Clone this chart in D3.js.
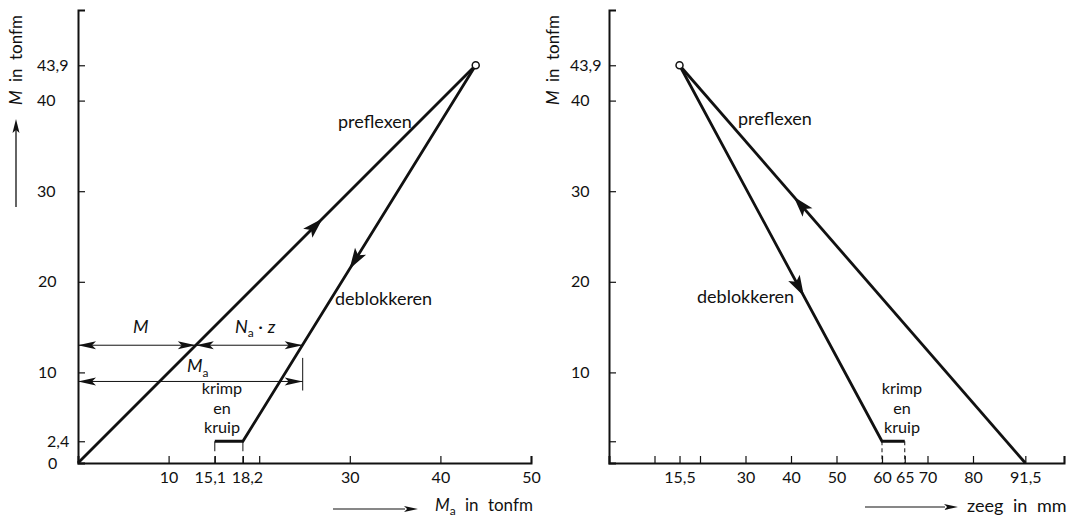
<!DOCTYPE html>
<html>
<head>
<meta charset="utf-8">
<script src="https://cdn.jsdelivr.net/npm/d3@7"></script>
<style>
  body { margin: 0; background: #fff; }
  svg text { font-family: Lato, "Open Sans", sans-serif; font-size: 18px; fill: #111; }
  .domain { stroke: #111; stroke-width: 2; }
  .tick line { stroke: #111; stroke-width: 1.2; }
</style>
</head>
<body>
<div id="chart"></div>
<script>
var width = 1077;
var height = 520;

// moment M (tonfm) shared by both panels
var yTicks = [0, 2.4, 10, 20, 30, 40, 43.9];

// left panel: M against Ma
var leftXTicks = [10, 15.1, 18.2, 20, 30, 40, 50];
var leftXLabels = ["10", "15,1", "18,2", "", "30", "40", "50"];
var leftPreflexen = [[0, 0], [43.9, 43.9]];
var leftDeblokkeren = [[43.9, 43.9], [18.2, 2.4]];
var leftKrimp = [[18.2, 2.4], [15.1, 2.4]];
var dimLevel = 13;     // M line for M / Na.z
var dimM = 13;
var dimMa = 24.8;
var dimLevel2 = 9;     // Ma line

// right panel: M against zeeg (mm)
var rightXTicks = [10, 15.5, 20, 30, 40, 50, 60, 65, 70, 80, 91.5, 100];
var rightXLabels = ["", "15,5", "", "30", "40", "50", "60", "65", "70", "80", "91,5", ""];
var rightPreflexen = [[91.5, 0], [15.5, 43.9]];
var rightDeblokkeren = [[15.5, 43.9], [60, 2.4]];
var rightKrimp = [[60, 2.4], [65, 2.4]];

var fmt = function(d) { return String(d).replace(".", ","); };

var svg = d3.select("#chart").append("svg")
    .attr("width", width)
    .attr("height", height);

var yScale = d3.scaleLinear().domain([0, 50]).range([463, 10]);
var xLeft = d3.scaleLinear().domain([0, 50]).range([78, 531]);
var xRight = d3.scaleLinear().domain([0, 100]).range([609, 1064]);

var line = function(xs) {
  return d3.line().x(function(d) { return xs(d[0]); }).y(function(d) { return yScale(d[1]); });
};

// barbed arrow head, tip at (x,y), pointing along angle a
function arrowHead(g, x, y, a, len, half) {
  var c = Math.cos(a), s = Math.sin(a);
  var bx = x - len * c, by = y - len * s;
  var nx = x - len * 0.78 * c, ny = y - len * 0.78 * s;
  g.append("path")
    .attr("d", "M" + x + "," + y +
      "L" + (bx - half * s) + "," + (by + half * c) +
      "L" + nx + "," + ny +
      "L" + (bx + half * s) + "," + (by - half * c) + "Z")
    .attr("fill", "#111");
}

// arrow on a segment, tip placed where the segment reaches level m
function arrowOnSegment(g, xs, seg, m) {
  var p0 = seg[0], p1 = seg[1];
  var t = (m - p0[1]) / (p1[1] - p0[1]);
  var x = xs(p0[0] + t * (p1[0] - p0[0])), y = yScale(m);
  var a = Math.atan2(yScale(p1[1]) - yScale(p0[1]), xs(p1[0]) - xs(p0[0]));
  arrowHead(g, x, y, a, 21, 6.5);
}

function drawPanel(xs, xTicks, xLabels, yLabelX, tickLabelX, labelShift) {
  var g = svg.append("g");

  var xAxis = d3.axisBottom(xs).tickValues(xTicks)
      .tickFormat(function(d, i) { return xLabels[i]; })
      .tickSizeInner(-7).tickSizeOuter(-7).tickPadding(9);
  g.append("g")
    .attr("transform", "translate(0," + yScale(0) + ")")
    .call(xAxis)
    .selectAll("text").style("font-size", "16px").attr("fill", "#111")
    .attr("x", function(d) { return labelShift[d] || 0; });

  var yAxis = d3.axisLeft(yScale).tickValues(yTicks.filter(function(d) { return tickLabelX[d] !== undefined; }))
      .tickFormat(fmt)
      .tickSizeInner(-7).tickSizeOuter(-7);
  var ya = g.append("g")
    .attr("transform", "translate(" + xs(0) + ",0)")
    .call(yAxis);
  ya.selectAll("text")
    .attr("text-anchor", "start")
    .attr("x", function(d) { return tickLabelX[d] - xs(0); })
    .style("font-size", "16px").attr("fill", "#111")
    .text(function(d) { return tickLabelX[d] === null ? "" : fmt(d); });

  // axis title, rotated
  var t = g.append("text")
    .attr("transform", "translate(" + yLabelX + ",105) rotate(-90)")
    .attr("text-anchor", "start")
    .style("font-size", "17px")
    .style("word-spacing", "4px");
  t.append("tspan").attr("font-style", "italic").text("M");
  t.append("tspan").text(" in tonfm");
  return g;
}

var yLabLeft = {0: 48, 2.4: 47, 10: 38, 20: 38, 30: 37, 40: 37, 43.9: 37};
var yLabRight = {2.4: null, 10: 571, 20: 571, 30: 571, 40: 571, 43.9: 570};

// ---------- left panel ----------
var gl = drawPanel(xLeft, leftXTicks, leftXLabels, 22, yLabLeft, {15.1: -5, 18.2: 4});

// arrow under the y title
gl.append("line").attr("x1", 16).attr("x2", 16).attr("y1", 207).attr("y2", 130)
  .attr("stroke", "#111").attr("stroke-width", 1.3);
arrowHead(gl, 16, 119, -Math.PI / 2, 14, 3.5);

gl.append("path").datum(leftPreflexen).attr("d", line(xLeft))
  .attr("fill", "none").attr("stroke", "#111").attr("stroke-width", 2.8);
gl.append("path").datum(leftDeblokkeren.concat([leftKrimp[1]])).attr("d", line(xLeft))
  .attr("fill", "none").attr("stroke", "#111").attr("stroke-width", 2.8);
arrowOnSegment(gl, xLeft, leftPreflexen, 27);
arrowOnSegment(gl, xLeft, leftDeblokkeren, 21.4);

// krimp bracket ends
leftKrimp.forEach(function(p) {
  gl.append("line").attr("x1", xLeft(p[0])).attr("x2", xLeft(p[0]))
    .attr("y1", yScale(p[1])).attr("y2", yScale(0))
    .attr("stroke", "#111").attr("stroke-width", 1).attr("stroke-dasharray", "10,5");
});

gl.append("circle").attr("cx", xLeft(43.9)).attr("cy", yScale(43.9)).attr("r", 3.5)
  .attr("fill", "#fff").attr("stroke", "#111").attr("stroke-width", 1.5);

// dimension lines
function dimArrow(g, xa, xb, m) {
  var y = yScale(m);
  g.append("line").attr("x1", xa).attr("x2", xb).attr("y1", y).attr("y2", y)
    .attr("stroke", "#111").attr("stroke-width", 1);
  arrowHead(g, xa, y, Math.PI, 18, 4);
  arrowHead(g, xb, y, 0, 18, 4);
}
dimArrow(gl, xLeft(0), xLeft(dimM), dimLevel);
dimArrow(gl, xLeft(dimM), xLeft(dimMa), dimLevel);
dimArrow(gl, xLeft(0), xLeft(dimMa), dimLevel2);
gl.append("line").attr("x1", xLeft(dimMa)).attr("x2", xLeft(dimMa))
  .attr("y1", yScale(11.6)).attr("y2", yScale(8))
  .attr("stroke", "#111").attr("stroke-width", 1);

var tM = gl.append("text").attr("x", 133).attr("y", 333);
tM.append("tspan").attr("font-style", "italic").text("M");
var tN = gl.append("text").attr("x", 235).attr("y", 333);
tN.append("tspan").attr("font-style", "italic").text("N");
tN.append("tspan").attr("dy", 4).style("font-size", "12px").text("a");
tN.append("tspan").attr("dy", -4).text(" \u00b7 ");
tN.append("tspan").attr("font-style", "italic").text("z");
var tMa = gl.append("text").attr("x", 187).attr("y", 372);
tMa.append("tspan").attr("font-style", "italic").text("M");
tMa.append("tspan").attr("dy", 5).style("font-size", "12px").text("a");

function krimpLabel(g, x) {
  ["krimp", "en", "kruip"].forEach(function(s, i) {
    g.append("text").attr("x", x).attr("y", 394 + i * 19.5)
      .attr("text-anchor", "middle").style("font-size", "16.2px").text(s);
  });
}
krimpLabel(gl, 222);

gl.append("text").attr("x", 338).attr("y", 128).text("preflexen");
gl.append("text").attr("x", 335).attr("y", 305).text("deblokkeren");

// x title
gl.append("line").attr("x1", 333).attr("x2", 405).attr("y1", 509).attr("y2", 509)
  .attr("stroke", "#111").attr("stroke-width", 1.2);
arrowHead(gl, 418, 509, 0, 14, 3);
var tx = gl.append("text").attr("x", 435).attr("y", 511).style("font-size", "17px").style("word-spacing", "5px");
tx.append("tspan").attr("font-style", "italic").text("M");
tx.append("tspan").attr("dy", 4).style("font-size", "12px").text("a");
tx.append("tspan").attr("dy", -4).text(" in tonfm");

// ---------- right panel ----------
var gr = drawPanel(xRight, rightXTicks, rightXLabels, 559, yLabRight, {});

gr.append("path").datum(rightPreflexen).attr("d", line(xRight))
  .attr("fill", "none").attr("stroke", "#111").attr("stroke-width", 2.8);
gr.append("path").datum(rightDeblokkeren.concat([rightKrimp[1]])).attr("d", line(xRight))
  .attr("fill", "none").attr("stroke", "#111").attr("stroke-width", 2.8);
arrowOnSegment(gr, xRight, rightPreflexen, 29.4);
arrowOnSegment(gr, xRight, rightDeblokkeren, 18.4);

rightKrimp.forEach(function(p) {
  gr.append("line").attr("x1", xRight(p[0])).attr("x2", xRight(p[0]))
    .attr("y1", yScale(p[1])).attr("y2", yScale(0))
    .attr("stroke", "#111").attr("stroke-width", 1).attr("stroke-dasharray", "4,3");
});

gr.append("circle").attr("cx", xRight(15.5)).attr("cy", yScale(43.9)).attr("r", 3.5)
  .attr("fill", "#fff").attr("stroke", "#111").attr("stroke-width", 1.5);

krimpLabel(gr, 902);
gr.append("text").attr("x", 738).attr("y", 125).text("preflexen");
gr.append("text").attr("x", 697).attr("y", 303).text("deblokkeren");

gr.append("line").attr("x1", 865).attr("x2", 945).attr("y1", 507).attr("y2", 507)
  .attr("stroke", "#111").attr("stroke-width", 1.2);
arrowHead(gr, 958, 507, 0, 14, 3);
gr.append("text").attr("x", 967).attr("y", 512).style("word-spacing", "5px").text("zeeg in mm");
</script>
</body>
</html>
